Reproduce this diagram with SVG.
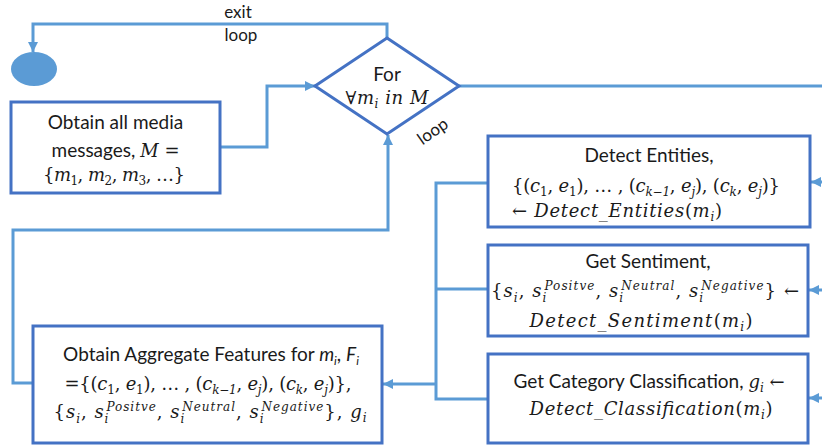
<svg xmlns="http://www.w3.org/2000/svg" width="822" height="445" viewBox="0 0 822 445">
<defs>
<marker id="ah" markerUnits="userSpaceOnUse" markerWidth="11" markerHeight="10" refX="10" refY="5" orient="auto"><path d="M0,0 L10,5 L0,10 z" fill="#5B9BD5"/></marker>
<style>
.box{fill:#fff;stroke:#4472C4;stroke-width:3}
.cn{fill:none;stroke:#5B9BD5;stroke-width:3}
.t{font-family:Lato,"Liberation Sans",sans-serif;font-size:19px;fill:#1a1a1a;text-anchor:middle}
.lb{font-size:17px}
.m{font-family:"DejaVu Serif","Liberation Serif",serif;font-style:italic;font-size:18px}
.it{font-style:italic}
.u{font-style:normal}
.sb{font-size:12px}
</style>
</defs>
<g id="connectors">
<path class="cn" d="M387,38 V24 H33 V52" marker-end="url(#ah)"/>
<path class="cn" d="M459,86 H822"/>
<path class="cn" d="M220,147 H267 V86 H315" marker-end="url(#ah)"/>
<path class="cn" d="M33,383 H13 V230 H388 V135" marker-end="url(#ah)"/>
<path class="cn" d="M822,182 H811" marker-end="url(#ah)"/>
<path class="cn" d="M822,290 H809" marker-end="url(#ah)"/>
<path class="cn" d="M822,398 H809" marker-end="url(#ah)"/>
<path class="cn" d="M488,183 H436 V399 H488 M488,289 H436"/>
<path class="cn" d="M436,384 H383" marker-end="url(#ah)"/>
<text class="t lb" x="238" y="18">exit</text>
<text class="t lb" x="241" y="41">loop</text>
<text class="t lb" transform="translate(436,136) rotate(-35)">loop</text>
</g>
<g id="end">
<ellipse cx="34" cy="69" rx="23" ry="17" fill="#5B9BD5"/>
</g>
<g id="loop">
<polygon class="box" points="387,38 459,86 387,134 315,86"/>
<text class="t" x="387" y="81">For</text>
<text class="t m" x="387" y="104" textLength="83"><tspan class="u">∀</tspan>m<tspan class="sb" dy="4">i</tspan><tspan dy="-4"> in M</tspan></text>
</g>
<g id="obtain">
<rect class="box" x="11" y="102" width="209" height="91"/>
<text class="t" x="115.5" y="129">Obtain all media</text>
<text class="t" x="115.5" y="157">messages, <tspan class="m">M</tspan><tspan class="m u"> =</tspan></text>
<text class="t m" x="114" y="181" textLength="142"><tspan class="u">{</tspan>m<tspan class="sb u" dy="4">1</tspan><tspan class="u" dy="-4">, </tspan>m<tspan class="sb u" dy="4">2</tspan><tspan class="u" dy="-4">, </tspan>m<tspan class="sb u" dy="4">3</tspan><tspan class="u" dy="-4">, …}</tspan></text>
</g>
<g id="entities">
<rect class="box" x="488" y="136" width="322" height="91"/>
<text class="t" x="649" y="162">Detect Entities,</text>
<text class="t m" x="646" y="192" textLength="268"><tspan class="u">{(</tspan>c<tspan class="sb u" dy="4">1</tspan><tspan class="u" dy="-4">, </tspan>e<tspan class="sb u" dy="4">1</tspan><tspan class="u" dy="-4">), … , (</tspan>c<tspan class="sb" dy="4">k−1</tspan><tspan class="u" dy="-4">, </tspan>e<tspan class="sb" dy="4">j</tspan><tspan class="u" dy="-4">), (</tspan>c<tspan class="sb" dy="4">k</tspan><tspan class="u" dy="-4">, </tspan>e<tspan class="sb" dy="4">j</tspan><tspan class="u" dy="-4">)}</tspan></text>
<text class="t m" x="617" y="217" textLength="210"><tspan class="u">← </tspan>Detect_Entities<tspan class="u">(</tspan>m<tspan class="sb" dy="4">i</tspan><tspan class="u" dy="-4">)</tspan></text>
</g>
<g id="sentiment">
<rect class="box" x="488" y="245" width="320" height="91"/>
<text class="t" x="648" y="268">Get Sentiment,</text>
<text class="t m" x="645" y="297" textLength="308"><tspan class="u">{</tspan>s<tspan class="sb" dy="5">i</tspan><tspan class="u" dy="-5">, </tspan>s<tspan class="sb" dy="5">i</tspan><tspan class="sb" dx="-3" dy="-12">Positve</tspan><tspan class="u" dy="7">, </tspan>s<tspan class="sb" dy="5">i</tspan><tspan class="sb" dx="-3" dy="-12">Neutral</tspan><tspan class="u" dy="7">, </tspan>s<tspan class="sb" dy="5">i</tspan><tspan class="sb" dx="-3" dy="-12">Negative</tspan><tspan class="u" dy="7">} ←</tspan></text>
<text class="t m" x="641" y="327" textLength="223">Detect_Sentiment<tspan class="u">(</tspan>m<tspan class="sb" dy="4">i</tspan><tspan class="u" dy="-4">)</tspan></text>
</g>
<g id="category">
<rect class="box" x="488" y="354" width="320" height="89"/>
<text class="t" x="649" y="388">Get Category Classification, <tspan class="m">g</tspan><tspan class="m sb" dy="4">i</tspan><tspan class="m u" dy="-4"> ←</tspan></text>
<text class="t m" x="651" y="415" textLength="243">Detect_Classification<tspan class="u">(</tspan>m<tspan class="sb" dy="4">i</tspan><tspan class="u" dy="-4">)</tspan></text>
</g>
<g id="aggregate">
<rect class="box" x="33" y="326" width="349" height="117"/>
<text class="t" x="211" y="361">Obtain Aggregate Features for <tspan class="it">m</tspan><tspan class="it sb" dy="4">i</tspan><tspan dy="-4">, </tspan><tspan class="it">F</tspan><tspan class="it sb" dy="4">i</tspan></text>
<text class="t m" x="208" y="390" textLength="287"><tspan class="u">={(</tspan>c<tspan class="sb u" dy="4">1</tspan><tspan class="u" dy="-4">, </tspan>e<tspan class="sb u" dy="4">1</tspan><tspan class="u" dy="-4">), … , (</tspan>c<tspan class="sb" dy="4">k−1</tspan><tspan class="u" dy="-4">, </tspan>e<tspan class="sb" dy="4">j</tspan><tspan class="u" dy="-4">), (</tspan>c<tspan class="sb" dy="4">k</tspan><tspan class="u" dy="-4">, </tspan>e<tspan class="sb" dy="4">j</tspan><tspan class="u" dy="-4">)},</tspan></text>
<text class="t m" x="210" y="418" textLength="313"><tspan class="u">{</tspan>s<tspan class="sb" dy="5">i</tspan><tspan class="u" dy="-5">, </tspan>s<tspan class="sb" dy="5">i</tspan><tspan class="sb" dx="-3" dy="-12">Positve</tspan><tspan class="u" dy="7">, </tspan>s<tspan class="sb" dy="5">i</tspan><tspan class="sb" dx="-3" dy="-12">Neutral</tspan><tspan class="u" dy="7">, </tspan>s<tspan class="sb" dy="5">i</tspan><tspan class="sb" dx="-3" dy="-12">Negative</tspan><tspan class="u" dy="7">}, </tspan>g<tspan class="sb" dy="4">i</tspan></text>
</g>
</svg>
